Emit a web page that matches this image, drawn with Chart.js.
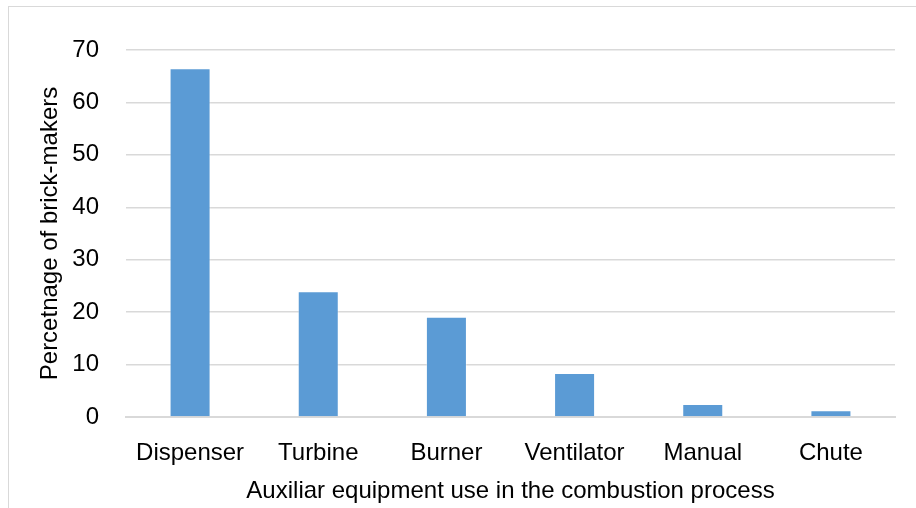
<!DOCTYPE html>
<html>
<head>
<meta charset="utf-8">
<script src="https://cdn.jsdelivr.net/npm/chart.js@4/dist/chart.umd.min.js"></script>
<style>
  html, body { margin: 0; padding: 0; background: #ffffff; }
  #wrap { position: relative; width: 916px; height: 508px; overflow: hidden; }
  #frame { position: absolute; left: 8px; top: 6px; width: 940px; height: 540px; border: 1px solid #d9d9d9; box-sizing: border-box; }
  canvas { position: absolute; left: 0; top: 0; }
</style>
</head>
<body>
<div id="wrap">
  <div id="frame"></div>
  <canvas id="c" width="916" height="508"></canvas>
</div>
<script>
// Auxiliary equipment used by brick-makers in the kiln combustion process
const categories = ['Dispenser', 'Turbine', 'Burner', 'Ventilator', 'Manual', 'Chute'];
const percentages = [66.5, 24.0, 19.1, 8.4, 2.5, 1.3];
const yTicks = [0, 10, 20, 30, 40, 50, 60, 70];

const FONT = "'Liberation Sans Narrow', 'Arial Narrow', 'Liberation Sans', Arial, sans-serif";

new Chart(document.getElementById('c'), {
  type: 'bar',
  data: {
    labels: categories,
    datasets: [{
      data: percentages,
      backgroundColor: '#5b9bd5',
      borderColor: 'rgba(255,255,255,0.35)',
      borderWidth: 1,
      categoryPercentage: 1.0,
      barPercentage: 0.32
    }]
  },
  options: {
    responsive: false,
    animation: false,
    layout: { padding: { top: 50, right: 21, left: 0, bottom: 0 } },
    plugins: { legend: { display: false }, tooltip: { enabled: false } },
    scales: {
      x: {
        grid: { display: false, drawTicks: false },
        border: { display: true, color: '#d9d9d9', width: 2 },
        ticks: { color: '#000', padding: 22, maxRotation: 0, autoSkip: false,
                 font: { family: FONT, size: 24 } },
        title: { display: true, text: 'Auxiliar equipment use in the combustion process',
                 color: '#000', font: { family: FONT, size: 24 }, padding: { top: 0, bottom: 2 } },
        afterFit: s => { s.height = 91; }
      },
      y: {
        min: 0, max: 70,
        afterBuildTicks: s => { s.ticks = yTicks.map(v => ({ value: v })); },
        grid: { color: '#d9d9d9', lineWidth: 1.5, drawTicks: false },
        border: { display: false },
        ticks: { color: '#000', padding: 27, font: { family: FONT, size: 24 } },
        title: { display: true, text: 'Percetnage of brick-makers', color: '#000',
                 font: { family: FONT, size: 24 }, padding: { top: 36, bottom: 0 } },
        afterFit: s => { s.width = 126; }
      }
    }
  }
});
</script>
</body>
</html>
